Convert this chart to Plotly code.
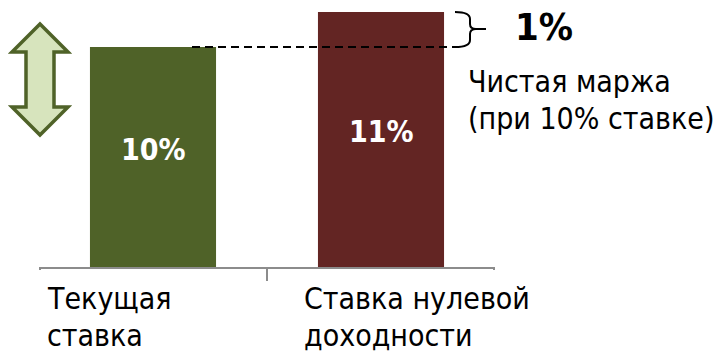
import plotly.graph_objects as go

# ---- data ----
categories = ["Текущая<br>ставка", "Ставка нулевой<br>доходности"]
values = [10, 11]
bar_colors = ["#4F6228", "#632523"]
margin_value = 1
margin_label = "Чистая маржа<br>(при 10% ставке)"

FONT = "DejaVu Sans Condensed, DejaVu Sans, sans-serif"

W, H = 715, 351
L, R, T, B = 39, 495, 0, 267  # plot area in pixels

# y scale: 35 px per unit, baseline at bottom of plot area
PX_PER_UNIT = 35.0
y0 = values[0] - (B - 47) / PX_PER_UNIT
y1 = y0 + (B - T) / PX_PER_UNIT


def fx(p):
    return (p - L) / (R - L)


def fy(p):
    return (B - p) / (B - T)


fig = go.Figure()
fig.add_trace(go.Bar(
    x=[0, 1], y=values, marker=dict(color=bar_colors, line=dict(width=0)),
    width=0.553, hoverinfo="skip", showlegend=False,
))

annotations = []
# value labels inside bars
for i, v in enumerate(values):
    annotations.append(dict(
        x=i, y=(max(y0, 0) + v) / 2, xref="x", yref="y", text=f"<b>{v}%</b>",
        showarrow=False, yshift=8,
        font=dict(family=FONT, size=30, color="white"),
    ))


def text_lines(text, x_px, top_px, spacing, size=30):
    for k, line in enumerate(text.split("<br>")):
        annotations.append(dict(
            x=fx(x_px), y=fy(top_px + k * spacing), xref="paper", yref="paper", text=line,
            showarrow=False, xanchor="left", yanchor="top", align="left",
            font=dict(family=FONT, size=size, color="black"),
        ))


# category labels (left aligned)
cat_x = [45, 302]
for i, c in enumerate(categories):
    text_lines(c, cat_x[i], 279, 37)

# margin annotation
annotations.append(dict(
    x=fx(513), y=fy(27), xref="paper", yref="paper", text=f"<b>{margin_value}%</b>",
    showarrow=False, xanchor="left", yanchor="middle",
    font=dict(family=FONT, size=38, color="black"),
))
text_lines(margin_label, 466, 62, 37)

shapes = []
# dashed level line from top of first bar
shapes.append(dict(
    type="line", xref="paper", yref="y", x0=fx(192), x1=fx(455), y0=values[0], y1=values[0],
    line=dict(color="black", width=2, dash="8px,5px"),
))


def P(x, y):
    return f"{fx(x):.5f},{fy(y):.5f}"


# curly bracket
brace = (f"M {P(455,12)} Q {P(470,12)} {P(470,19)} L {P(470,24)} Q {P(470,29)} {P(476,29)} "
         f"L {P(486,29)} M {P(476,29)} Q {P(470,29)} {P(470,34)} L {P(470,40)} "
         f"Q {P(470,47)} {P(455,47)}")
shapes.append(dict(type="path", xref="paper", yref="paper", path=brace,
                   line=dict(color="black", width=2)))

# double-headed arrow
arrow_pts = [(40, 24), (68, 52), (54, 52), (54, 107), (68, 107), (40, 135),
             (12, 107), (26, 107), (26, 52), (12, 52)]
arrow = "M " + " L ".join(P(x, y) for x, y in arrow_pts) + " Z"
shapes.append(dict(type="path", xref="paper", yref="paper", path=arrow,
                   fillcolor="#D7E4BD", line=dict(color="#4F6228", width=3.5)))

# axis ticks
shapes.append(dict(type="line", xref="paper", yref="paper", x0=fx(267), x1=fx(267),
                   y0=fy(267), y1=fy(281), line=dict(color="#8C8C8C", width=2)))
for px_ in (L + 1, R - 1):
    shapes.append(dict(type="line", xref="paper", yref="paper", x0=fx(px_), x1=fx(px_),
                       y0=fy(267), y1=fy(270), line=dict(color="#8C8C8C", width=2)))

fig.update_layout(
    width=W, height=H,
    margin=dict(l=L, r=W - R, t=T, b=H - B, pad=0),
    plot_bgcolor="white", paper_bgcolor="white",
    xaxis=dict(range=[-0.5, 1.5], showticklabels=False, showgrid=False, zeroline=False,
               showline=True, linecolor="#8C8C8C", linewidth=2, ticks=""),
    yaxis=dict(range=[y0, y1], visible=False, showgrid=False, zeroline=False),
    annotations=annotations, shapes=shapes, showlegend=False,
)

fig.write_html("out.html")
